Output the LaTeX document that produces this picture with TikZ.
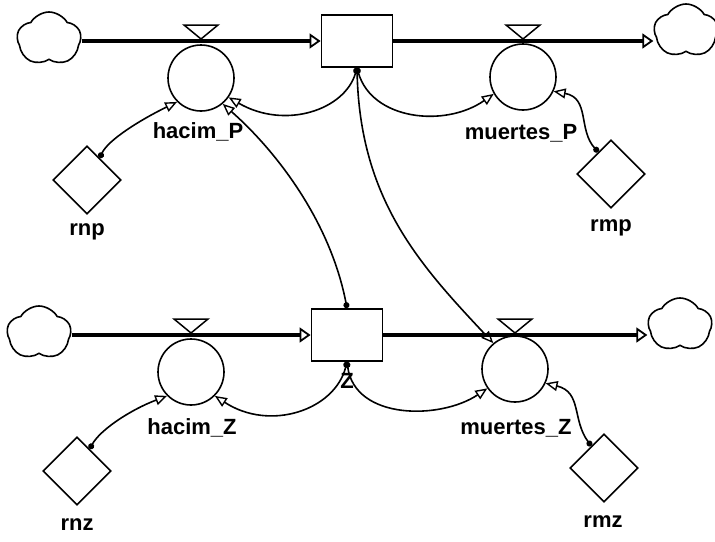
\documentclass[tikz,border=0pt]{standalone}
\usepackage{fontspec}
\setmainfont{Liberation Sans}
\usetikzlibrary{arrows.meta,shapes.geometric,shapes.symbols,positioning}

\begin{document}
\begin{tikzpicture}[x=1pt,y=-1pt,
    stock/.style={draw,line width=1.8pt,minimum width=71pt,minimum height=52pt,inner sep=0pt},
    rate/.style={draw,circle,line width=1.6pt,minimum size=66pt,inner sep=0pt},
    const/.style={draw,diamond,line width=1.6pt,minimum width=68pt,minimum height=68pt,inner sep=0pt},
    sky/.style={draw,cloud,cloud puffs=5,cloud puff arc=120,cloud ignores aspect,line width=1.6pt,minimum width=64pt,minimum height=54pt,inner sep=0pt},
    flow/.style={line width=4.5pt,-{Triangle[open,length=11pt,width=15pt,line width=1.8pt]}},
    link/.style={line width=1.6pt,{Circle[length=6pt]}-{Triangle[open,length=12pt,width=10pt,line width=1.4pt]}},
    lbl/.style={font=\fontsize{22}{24}\selectfont\bfseries,inner sep=0pt},
    valve/.pic={\draw[line width=1.5pt,fill=white] (-17,-16) -- (17,-16) -- (0,-2) -- cycle;}]

  \useasboundingbox (0,0) rectangle (715,541);

  % stocks and clouds
  \node[stock] (P) at (357,41) {};
  \node[stock] (Z) at (347,335) {};
  \node[sky] (cPL) at (49,39) {};
  \node[sky] (cPR) at (686,31) {};
  \node[sky] (cZL) at (39,333) {};
  \node[sky] (cZR) at (680,325) {};

  % flows
  \draw[flow] (cPL.east |- P.west) -- (P.west);
  \draw[flow] (P.east) -- (P.east -| cPR.west);
  \draw[flow] (cZL.east |- Z.west) -- (Z.west);
  \draw[flow] (Z.east) -- (Z.east -| cZR.west);

  % rates
  \node[rate] (hP) at (201,78) {};
  \node[rate] (mP) at (523,77) {};
  \node[rate] (hZ) at (191,372) {};
  \node[rate] (mZ) at (515,369) {};
  \pic at (hP |- P.west) {valve};
  \pic at (mP |- P.east) {valve};
  \pic at (hZ |- Z.west) {valve};
  \pic at (mZ |- Z.east) {valve};

  % constants
  \node[const] (rnp) at (87,180) {};
  \node[const] (rmp) at (611,174) {};
  \node[const] (rnz) at (77,471) {};
  \node[const] (rmz) at (604,468) {};

  % labels
  \node[lbl] (hPl) at (198,132) {hacim\_P};
  \node[lbl] (mPl) at (521,133) {muertes\_P};
  \node[lbl] (hZl) at (192,428) {hacim\_Z};
  \node[lbl] (mZl) at (516,428) {muertes\_Z};
  \node[lbl] (Zl) at (347,381) {Z};
  \node[lbl] (rnpl) at (87,232) {rnp};
  \node[lbl] (rmpl) at (611,228) {rmp};
  \node[lbl] (rnzl) at (77,525) {rnz};
  \node[lbl] (rmzl) at (603,522) {rmz};

  % links
  \draw[link] (rnp.60) .. controls (108,140) and (140,120) .. (hP.225);
  \draw[link] (P.south) .. controls (345,110) and (285,130) .. (hP.-35);
  \draw[link] (P.south) .. controls (372,120) and (445,128) .. (mP.210);
  \draw[link] (rmp.120) .. controls (578,130) and (590,98) .. (mP.-25);
  \draw[link] (P.south) .. controls (360,200) and (420,265) .. (mZ.130);
  \draw[link] (Z.north) .. controls (330,220) and (275,150) .. (hP.-50);
  \draw[link] (Z.south) .. controls (335,410) and (270,432) .. (hZ.-45);
  \draw[link] (Z.south) .. controls (355,420) and (440,420) .. (mZ.215);
  \draw[link] (rnz.60) .. controls (100,430) and (130,410) .. (hZ.225);
  \draw[link] (rmz.120) .. controls (572,420) and (582,392) .. (mZ.-25);
\end{tikzpicture}
\end{document}
